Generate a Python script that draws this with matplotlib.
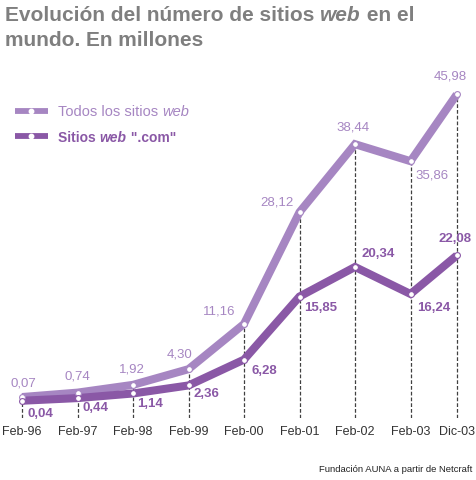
import matplotlib
matplotlib.use("Agg")
import matplotlib.pyplot as plt
from matplotlib.lines import Line2D
import matplotlib.transforms as mtransforms

# ---------------- data ----------------
date_labels = ["Feb-96", "Feb-97", "Feb-98", "Feb-99", "Feb-00",
               "Feb-01", "Feb-02", "Feb-03", "Dic-03"]
todos = [0.07, 0.74, 1.92, 4.30, 11.16, 28.12, 38.44, 35.86, 45.98]
com = [0.04, 0.44, 1.14, 2.36, 6.28, 15.85, 20.34, 16.24, 22.08]
series_names = ["Todos los sitios ", "Sitios "]
title_parts = [("Evolución del número de sitios ", "normal"), ("web", "italic"), (" en el", "normal")]
title_line2 = "mundo. En millones"
source = "Fundación AUNA a partir de Netcraft"

# month index from labels (time axis)
month_map = {"Ene": 1, "Feb": 2, "Mar": 3, "Abr": 4, "May": 5, "Jun": 6,
             "Jul": 7, "Ago": 8, "Sep": 9, "Oct": 10, "Nov": 11, "Dic": 12}
def to_month(lbl):
    m, y = lbl.split("-")
    year = 1900 + int(y) if int(y) > 50 else 2000 + int(y)
    return year * 12 + month_map[m]
xs = [to_month(l) for l in date_labels]
x0 = xs[0]
xs = [x - x0 for x in xs]

def fmt(v):
    return f"{v:.2f}".replace(".", ",")

# ---------------- style ----------------
LIGHT = "#a686c2"
DARK = "#8a58a6"
GRAY = "#7f7f7f"
FONT = ["Liberation Sans", "DejaVu Sans"]
plt.rcParams["font.family"] = FONT

W, H = 476, 480
fig = plt.figure(figsize=(W / 100, H / 100), dpi=100)
fig.patch.set_facecolor("white")

# axes covering plot area (pixel geometry)
left_px, right_px = 0, 476
bottom_px, top_px = 418, 60
ax = fig.add_axes([left_px / W, (H - bottom_px) / H,
                   (right_px - left_px) / W, (bottom_px - top_px) / H])
px_per_month = 55.5 / 12
first_px = 22
ax.set_xlim((left_px - first_px) / px_per_month, (right_px - first_px) / px_per_month)
zero_px = 401
px_per_unit = 6.59
ax.set_ylim(-(bottom_px - zero_px) / px_per_unit, (zero_px - top_px) / px_per_unit)
ax.set_facecolor("none")
for s in ax.spines.values():
    s.set_visible(False)
ax.set_yticks([])
ax.set_xticks(xs)
ax.set_xticklabels(date_labels, fontsize=9, color="#333333")
ax.tick_params(axis="x", length=0, pad=6)

# the upper series is drawn slightly raised, as in the original graphic
lift = mtransforms.offset_copy(ax.transData, fig=fig, x=0, y=3.5, units="dots")

ymin = ax.get_ylim()[0]
ax.vlines(xs, ymin, [v + 3.5 / px_per_unit for v in todos], colors="#404040",
          linestyles=(0, (3, 1.6)), linewidth=0.9, zorder=1)

ax.plot(xs, todos, color=LIGHT, lw=5.8, solid_joinstyle="miter", solid_capstyle="butt",
        zorder=2, transform=lift)
ax.plot(xs, com, color=DARK, lw=5.8, solid_joinstyle="miter", solid_capstyle="butt", zorder=3)
ax.plot(xs, todos, ls="none", marker="o", ms=4.2, mfc="white", mec=LIGHT, mew=0.8, zorder=4,
        transform=lift)
ax.plot(xs, com, ls="none", marker="o", ms=4.2, mfc="white", mec=DARK, mew=0.8, zorder=4)

# label offsets (pixels) and alignment
todos_off = [(1, 14, "center"), (0, 16, "center"), (-1, 15, "center"), (-9, 15, "center"),
             (-9, 12, "right"), (-6, 10, "right"), (-2, 17, "center"), (5, -14, "left"),
             (-6, 18, "center")]
com_off = [(5, -13, "left"), (5, -10, "left"), (4, -11, "left"), (5, -9, "left"),
           (7, -11, "left"), (5, -11, "left"), (6, 13, "left"), (7, -14, "left"),
           (-2, 16, "center")]
for x, v, (dx, dy, ha) in zip(xs, todos, todos_off):
    ax.annotate(fmt(v), (x, v), xycoords=lift, xytext=(dx, dy), textcoords="offset pixels",
                ha=ha, va="center", fontsize=9.5, color=LIGHT, zorder=5)
for x, v, (dx, dy, ha) in zip(xs, com, com_off):
    ax.annotate(fmt(v), (x, v), xytext=(dx, dy), textcoords="offset pixels",
                ha=ha, va="center", fontsize=9.5, color=DARK, fontweight="bold", zorder=5)

# ---------------- title (mixed styles) ----------------
renderer = fig.canvas.get_renderer()
def draw_runs(runs, x_px, y_px, size, color, weight, va="baseline"):
    x = x_px
    for txt, style in runs:
        t = fig.text(x / W, 1 - y_px / H, txt, fontsize=size, color=color,
                     fontweight=weight, fontstyle=style, ha="left", va=va)
        bb = t.get_window_extent(renderer=renderer)
        x += bb.width
    return x

draw_runs(title_parts, 5, 21, 15, GRAY, "bold")
draw_runs([(title_line2, "normal")], 5, 46, 15, GRAY, "bold")

# ---------------- legend ----------------
for i, (name, col, wt, sz) in enumerate([(series_names[0], LIGHT, "normal", 10.5),
                                          (series_names[1], DARK, "bold", 10)]):
    y = 111 + 25 * i
    fig.add_artist(Line2D([15 / W, 48 / W], [1 - y / H, 1 - y / H], color=col, lw=4.2,
                          solid_capstyle="butt", transform=fig.transFigure))
    fig.add_artist(Line2D([31 / W], [1 - y / H], ls="none", marker="o", ms=3.2, mfc="white",
                          mec="white", transform=fig.transFigure))
    if i == 0:
        runs = [(name, "normal"), ("web", "italic")]
    else:
        runs = [(name, "normal"), ("web", "italic"), (' ".com"', "normal")]
    draw_runs(runs, 58, y, sz, col, wt, va="center_baseline")

# ---------------- source ----------------
fig.text(472 / W, 1 - 470 / H, source, fontsize=6.8, color="#222222",
         ha="right", va="center")

fig.savefig("out.png", dpi=100, facecolor="white")
